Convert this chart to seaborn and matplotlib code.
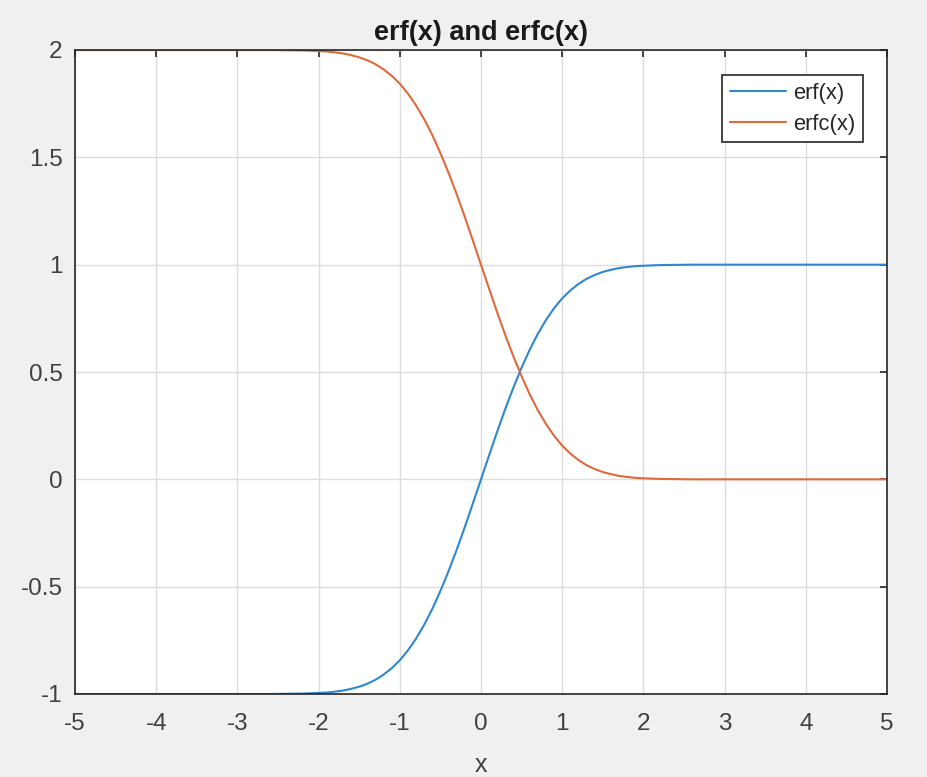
import matplotlib
matplotlib.use("Agg")
import matplotlib.pyplot as plt
import seaborn as sns
import pandas as pd

# values
x_vals = [-5, -4, -3, -2.6, -2.4, -2.2, -2.0, -1.9, -1.8, -1.7, -1.6, -1.5, -1.4, -1.3,
          -1.2, -1.1, -1.0, -0.9, -0.8, -0.7, -0.6, -0.5, -0.4, -0.3, -0.2, -0.1, 0.0,
          0.1, 0.2, 0.3, 0.4, 0.5, 0.6, 0.7, 0.8, 0.9, 1.0, 1.1, 1.2, 1.3, 1.4, 1.5,
          1.6, 1.7, 1.8, 1.9, 2.0, 2.2, 2.4, 2.6, 3, 4, 5]
erf_vals = [-1.000, -1.000, -1.000, -1.000, -0.999, -0.998, -0.995, -0.993, -0.989, -0.984,
            -0.976, -0.966, -0.952, -0.934, -0.910, -0.880, -0.843, -0.797, -0.742, -0.678,
            -0.604, -0.520, -0.428, -0.329, -0.223, -0.112, 0.000,
            0.112, 0.223, 0.329, 0.428, 0.520, 0.604, 0.678, 0.742, 0.797, 0.843, 0.880,
            0.910, 0.934, 0.952, 0.966, 0.976, 0.984, 0.989, 0.993, 0.995, 0.998, 0.999,
            1.000, 1.000, 1.000, 1.000]
erfc_vals = [2.000, 2.000, 2.000, 2.000, 1.999, 1.998, 1.995, 1.993, 1.989, 1.984,
             1.976, 1.966, 1.952, 1.934, 1.910, 1.880, 1.843, 1.797, 1.742, 1.678,
             1.604, 1.520, 1.428, 1.329, 1.223, 1.112, 1.000,
             0.888, 0.777, 0.671, 0.572, 0.480, 0.396, 0.322, 0.258, 0.203, 0.157, 0.120,
             0.090, 0.066, 0.048, 0.034, 0.024, 0.016, 0.011, 0.007, 0.005, 0.002, 0.001,
             0.000, 0.000, 0.000, 0.000]
series_names = ["erf(x)", "erfc(x)"]
x_ticks = [-5, -4, -3, -2, -1, 0, 1, 2, 3, 4, 5]
y_ticks = [-1, -0.5, 0, 0.5, 1, 1.5, 2]
y_tick_labels = ["-1", "-0.5", "0", "0.5", "1", "1.5", "2"]
x_tick_labels = ["-5", "-4", "-3", "-2", "-1", "0", "1", "2", "3", "4", "5"]

df = pd.DataFrame({
    "x": x_vals + x_vals,
    "y": erf_vals + erfc_vals,
    "series": [series_names[0]] * len(x_vals) + [series_names[1]] * len(x_vals),
})

sns.set_theme(style="white")
plt.rcParams["font.family"] = ["Liberation Sans", "DejaVu Sans"]

fig = plt.figure(figsize=(9.28, 7.77), dpi=100)
fig.patch.set_facecolor("#f0f0f0")
ax = fig.add_axes([75 / 928, 1 - 694 / 777, 812 / 928, 644 / 777])
ax.set_facecolor("white")

palette = {"erf(x)": "#2f88cf", "erfc(x)": "#de6a3c"}
sns.lineplot(data=df, x="x", y="y", hue="series", palette=palette, ax=ax,
             linewidth=1.5, estimator=None, sort=False)

ax.set_xlim(-5, 5)
ax.set_ylim(-1, 2)
ax.set_xticks(x_ticks)
ax.set_xticklabels(x_tick_labels)
ax.set_yticks(y_ticks)
ax.set_yticklabels(y_tick_labels)
ax.grid(True, color="#dcdcdc", linewidth=1)
ax.set_axisbelow(True)
for s in ax.spines.values():
    s.set_visible(True)
    s.set_color("#262626")
    s.set_linewidth(1.2)
ax.tick_params(direction="in", length=5, width=1.2, top=True, right=True,
               labelsize=17.5, colors="#262626", labelcolor="#404040", pad=9)
ax.tick_params(axis="x", pad=14)
ax.set_xlabel("x", fontsize=18, color="#404040", labelpad=13)
ax.set_ylabel("")
ax.set_title("erf(x) and erfc(x)", fontsize=19.5, fontweight="bold", color="#1a1a1a", pad=7)

leg = ax.legend(loc="upper right", bbox_to_anchor=(0.970, 0.961), borderaxespad=0,
                fontsize=15.8, frameon=True, fancybox=False, handlelength=2.55,
                handletextpad=0.3, borderpad=0.35, labelspacing=0.45)
leg.get_frame().set_edgecolor("#262626")
leg.get_frame().set_linewidth(1.2)
leg.get_frame().set_alpha(1)
for t in leg.get_texts():
    t.set_color("#262626")

fig.savefig("out.png", dpi=100, facecolor=fig.get_facecolor())
